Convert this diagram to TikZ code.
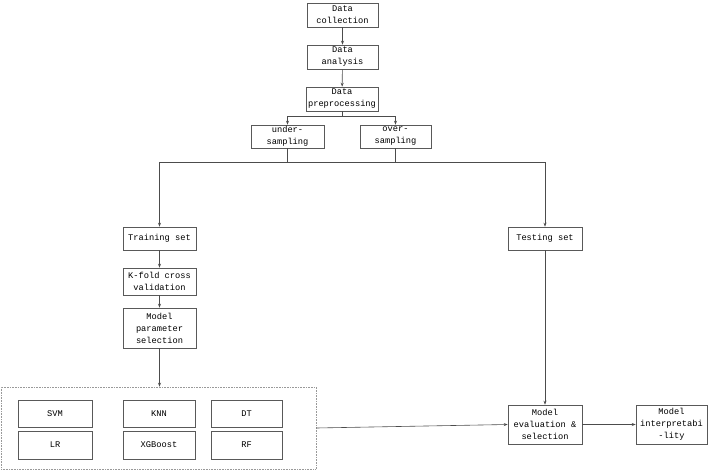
\documentclass[tikz,border=0pt]{standalone}
\usepackage{fontspec}
\setmainfont{Liberation Mono}
\usetikzlibrary{arrows.meta}
\begin{document}
\begin{tikzpicture}[x=1pt,y=-1pt,
  box/.style={draw=black!65, line width=0.6pt, inner sep=0pt, align=center,
    font=\fontsize{8.7}{12}\selectfont, text=black},
  conn/.style={draw=black!70, line width=0.6pt, -{Stealth[length=4pt,width=3pt]}},
  plain/.style={draw=black!70, line width=0.6pt}]
\useasboundingbox (0,0) rectangle (709,471);
\node[box, minimum width=71pt, minimum height=24pt] (dc) at (342.5,15) {Data\\collection};
\node[box, minimum width=71pt, minimum height=24pt] (da) at (342.5,57) {Data\\analysis};
\node[box, minimum width=72pt, minimum height=24pt] (dp) at (342,99) {Data\\preprocessing};
\node[box, minimum width=73pt, minimum height=23pt] (us) at (287.5,136.5) {under-\\sampling};
\node[box, minimum width=71pt, minimum height=23pt] (os) at (395.5,136.5) {over-\\sampling};
\node[box, minimum width=73pt, minimum height=23pt] (tr) at (159.5,238.5) {Training set};
\node[box, minimum width=74pt, minimum height=23pt] (te) at (545,238.5) {Testing set};
\node[box, minimum width=73pt, minimum height=27pt] (kf) at (159.5,281.5) {K-fold cross\\validation};
\node[box, minimum width=73pt, minimum height=40pt] (mp) at (159.5,328) {Model\\parameter\\selection};
\node[draw=black!40, densely dotted, line width=0.6pt, minimum width=315pt, minimum height=82pt, inner sep=0pt] (grp) at (158.5,428) {};
\node[box, minimum width=74pt, minimum height=27pt] (svm) at (55,413.5) {SVM};
\node[box, minimum width=74pt, minimum height=28pt] (lr) at (55,445) {LR};
\node[box, minimum width=72pt, minimum height=27pt] (knn) at (159,413.5) {KNN};
\node[box, minimum width=72pt, minimum height=28pt] (xgb) at (159,445) {XGBoost};
\node[box, minimum width=71pt, minimum height=27pt] (dt) at (246.5,413.5) {DT};
\node[box, minimum width=71pt, minimum height=28pt] (rf) at (246.5,445) {RF};
\node[box, minimum width=74pt, minimum height=39pt] (me) at (545,424.5) {Model\\evaluation \&\\selection};
\node[box, minimum width=71pt, minimum height=39pt] (mi) at (671.5,424.5) {Model\\interpretabi\\-lity};
\coordinate (split) at (342,116);
\coordinate (join) at (342,162);
\draw[conn] (dc) -- (da);
\draw[conn] (da) -- (dp);
\draw[plain] (dp) -- (split);
\draw[conn] (split) -| (us);
\draw[conn] (split) -| (os);
\draw[plain] (us.south) |- (join);
\draw[plain] (os.south) |- (join);
\draw[conn] (join) -| (tr);
\draw[conn] (join) -| (te);
\draw[conn] (tr) -- (kf);
\draw[conn] (kf) -- (mp);
\draw[conn] (mp.south) -- (mp.south |- grp.north);
\draw[conn] (te) -- (me);
\draw[conn] (grp.east) -- (me.west);
\draw[conn] (me) -- (mi);
\end{tikzpicture}
\end{document}
